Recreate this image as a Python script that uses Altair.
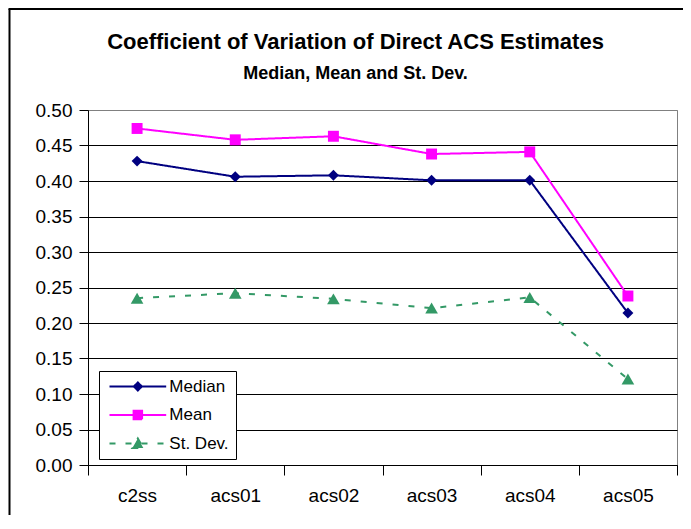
import altair as alt
import pandas as pd

# ---- data ----
categories = ["c2ss", "acs01", "acs02", "acs03", "acs04", "acs05"]
series_names = ["Median", "Mean", "St. Dev."]
median_vals = [0.428, 0.406, 0.408, 0.401, 0.401, 0.214]
mean_vals = [0.474, 0.458, 0.463, 0.438, 0.441, 0.238]
stdev_vals = [0.235, 0.242, 0.234, 0.221, 0.236, 0.121]
y_ticks = [0.00, 0.05, 0.10, 0.15, 0.20, 0.25, 0.30, 0.35, 0.40, 0.45, 0.50]

title_text = "Coefficient of Variation of Direct ACS Estimates"
subtitle_text = "Median, Mean and St. Dev."

# ---- styles ----
colors = ["#000080", "#FF00FF", "#339966"]
point_shapes = ["diamond", "square", "triangle-up"]
point_sizes = [120, 120, 160]
dashes = [[1, 0], [1, 0], [6, 10]]
# legend symbols: a line segment with the series marker (unit = 5px at symbolSize 100)
legend_paths = [
    "M-5.67,0H5.67M0,-0.8L0.8,0L0,0.8L-0.8,0Z",
    "M-5.67,0H5.67M-0.85,-0.85H0.85V0.85H-0.85Z",
    "M-5.67,0H5.67M0,-1.0L1.1,0.9H-1.1Z",
]
FONT = "Liberation Sans"

rows = []
for s, vals in zip(series_names, [median_vals, mean_vals, stdev_vals]):
    for c, v in zip(categories, vals):
        rows.append({"category": c, "series": s, "value": v})
df = pd.DataFrame(rows)

x_enc = alt.X(
    "category:N",
    sort=categories,
    scale=alt.Scale(domain=categories, paddingInner=0, paddingOuter=0),
    axis=alt.Axis(
        title=None, labelAngle=0, tickBand="extent", tickSize=10, labelPadding=11,
        labelFontSize=19, grid=False, domainColor="black", tickColor="black",
    ),
)
y_enc = alt.Y(
    "value:Q",
    scale=alt.Scale(domain=[0, 0.5], nice=False, zero=True),
    axis=alt.Axis(
        title=None, values=y_ticks, format=".2f", tickSize=9, labelPadding=7,
        labelFontSize=19, domainColor="black", tickColor="black",
        gridColor={"condition": {"test": "datum.value >= 0.5", "value": "#808080"}, "value": "black"},
    ),
)

base = alt.Chart(df)

series_layers = []
for s, col, dash in zip(series_names, colors, dashes):
    sub = base.transform_filter(alt.datum.series == s)
    series_layers.append(
        sub.mark_line(strokeWidth=2, color=col, strokeDash=dash).encode(x=x_enc, y=y_enc)
    )
for s, col, shp, sz in zip(series_names, colors, point_shapes, point_sizes):
    sub = base.transform_filter(alt.datum.series == s)
    series_layers.append(
        sub.mark_point(filled=True, opacity=1, shape=shp, size=sz, color=col).encode(x=x_enc, y=y_enc)
    )

leg = alt.Legend(
    title=None, orient="none", legendX=11, legendY=261, direction="vertical",
    strokeColor="black", fillColor="white", padding=7, cornerRadius=0,
    symbolSize=100, symbolStrokeWidth=2, symbolOffset=23.35,
    labelFont=FONT, labelFontSize=17, labelColor="black", labelOffset=23,
    rowPadding=10.5,
)

# legend-only layer: no rows drawn, legend entries come from the series list
legend_layer = (
    base.transform_filter("false")
    .mark_point(filled=True, opacity=1, strokeWidth=2)
    .encode(
        x=x_enc,
        y=y_enc,
        fill=alt.Fill("series:N", scale=alt.Scale(domain=series_names, range=colors), legend=leg),
        stroke=alt.Stroke("series:N", scale=alt.Scale(domain=series_names, range=colors), legend=leg),
        shape=alt.Shape("series:N", scale=alt.Scale(domain=series_names, range=legend_paths), legend=leg),
        strokeDash=alt.StrokeDash("series:N", scale=alt.Scale(domain=series_names, range=dashes), legend=leg),
    )
)

# outer chart-area border (left and top edges visible in the reference)
frame_left = alt.Chart(pd.DataFrame({"v": [0]})).mark_rule(color="black", strokeWidth=2).encode(
    x=alt.value(-78.5), y=alt.value(-101), y2=alt.value(420)
)
frame_top = alt.Chart(pd.DataFrame({"v": [0]})).mark_rule(color="black", strokeWidth=2).encode(
    x=alt.value(-79.5), x2=alt.value(610), y=alt.value(-101)
)

chart = (
    alt.layer(*series_layers, legend_layer, frame_left, frame_top)
    .properties(
        width=589,
        height=355,
        autosize=alt.AutoSizeParams(type="none"),
        padding={"left": 80, "top": 102, "right": 6, "bottom": 50},
        background="white",
        title=alt.Title(
            title_text, subtitle=subtitle_text, anchor="middle", frame="group", dx=-27,
            font=FONT, fontSize=22, fontWeight="bold", color="black",
            subtitleFont=FONT, subtitleFontSize=18, subtitleFontWeight="bold",
            subtitleColor="black", subtitlePadding=11, offset=-76,
        ),
    )
    .configure_view(stroke="#808080", strokeWidth=1)
    .configure_axis(labelFont=FONT, labelColor="black", gridWidth=1, domainWidth=1, tickWidth=1)
)

chart.save("out.html", embed_options={"renderer": "svg", "actions": False})
